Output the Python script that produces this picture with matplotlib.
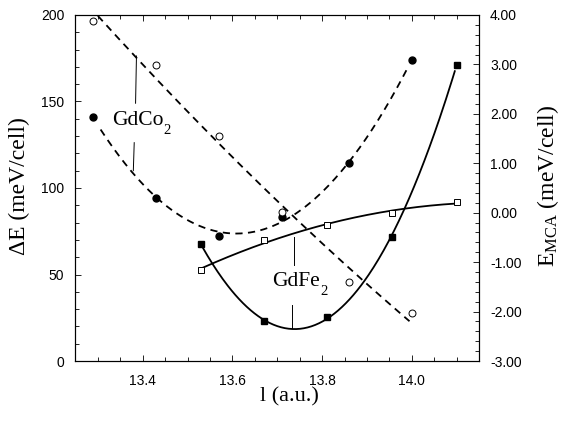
import numpy as np
import matplotlib
matplotlib.use("Agg")
import matplotlib.pyplot as plt
from matplotlib.ticker import MultipleLocator, FormatStrFormatter

plt.rcParams['font.family'] = ['Liberation Sans', 'DejaVu Sans']
plt.rcParams['mathtext.fontset'] = 'custom'
plt.rcParams['mathtext.rm'] = 'Liberation Serif'
plt.rcParams['mathtext.it'] = 'Liberation Serif:italic'

# lattice parameter l (a.u.)
l_co = [13.29, 13.43, 13.57, 13.71, 13.86, 14.00]
l_fe = [13.53, 13.67, 13.81, 13.955, 14.10]

# GdCo2: Delta E (left axis) and E_MCA (right axis)
de_co = [140.9, 94.4, 72.3, 83.2, 114.6, 173.8]
mca_co = [3.88, 2.99, 1.55, 0.01, -1.41, -2.03]

# GdFe2
de_fe = [67.5, 23.1, 25.3, 71.8, 171.1]
mca_fe = [-1.16, -0.55, -0.25, 0.00, 0.21]


def fit_curve(x, y, deg, x0, x1):
    p = np.polyfit(x, y, deg)
    xs = np.linspace(x0, x1, 200)
    return xs, np.polyval(p, xs)


def compound_label(ax, x, y, name):
    # main text and a lowered subscript "2", as in the original figure
    t = ax.text(x, y, name, fontsize=15.5, family=serif, ha='left', va='baseline')
    fig.canvas.draw()
    bb = t.get_window_extent()
    x_px, y_px = bb.x1, ax.transData.transform((x, y))[1]
    ax.text(x_px + 0.5, y_px - 9, '2', fontsize=10.5, family=serif, ha='left', va='baseline',
            transform=None)


fig = plt.figure(figsize=(5.71, 4.21), dpi=100)
ax = fig.add_axes([0.1322, 0.1425, 0.7067, 0.8219])
ax2 = ax.twinx()

serif = 'Liberation Serif'
dash = (4, 3)

# fitted curves
xs, ys = fit_curve(l_co, de_co, 2, 13.306, 13.99)
ax.plot(xs, ys, color='black', lw=1.3, dashes=dash)
xs, ys = fit_curve(l_co, mca_co, 2, 13.30, 13.995)
ax2.plot(xs, ys, color='black', lw=1.3, dashes=dash)
xs, ys = fit_curve(l_fe, de_fe, 3, 13.533, 14.096)
ax.plot(xs, ys, color='black', lw=1.3)
xs, ys = fit_curve(l_fe, mca_fe, 2, 13.533, 14.096)
ax2.plot(xs, ys, color='black', lw=1.3)

# markers
ax.plot(l_co, de_co, 'o', ms=5, color='black', zorder=5)
ax2.plot(l_co, mca_co, 'o', ms=5, mfc='white', mec='black', mew=0.7, zorder=5)
ax.plot(l_fe, de_fe, 's', ms=5, color='black', zorder=5)
ax2.plot(l_fe, mca_fe, 's', ms=5, mfc='white', mec='black', mew=0.7, zorder=5)

# axes setup
ax.set_xlim(13.25, 14.15)
ax.set_ylim(0, 200)
ax2.set_ylim(-3, 4)

ax.xaxis.set_major_locator(MultipleLocator(0.2))
ax.xaxis.set_minor_locator(MultipleLocator(0.05))
ax.xaxis.set_major_formatter(FormatStrFormatter('%.1f'))
ax.yaxis.set_major_locator(MultipleLocator(50))
ax.yaxis.set_minor_locator(MultipleLocator(10))
ax2.yaxis.set_major_locator(MultipleLocator(1))
ax2.yaxis.set_minor_locator(MultipleLocator(0.2))
ax2.yaxis.set_major_formatter(FormatStrFormatter('%.2f'))

ax.tick_params(axis='x', which='both', direction='in', top=True, bottom=True, labelsize=10, pad=9)
ax.tick_params(axis='y', which='both', direction='in', left=True, right=False, labelsize=10, pad=8)
ax2.tick_params(axis='y', which='both', direction='in', right=True, labelsize=10, pad=8)
for a in (ax, ax2):
    a.tick_params(which='major', length=4.5, width=0.6)
    a.tick_params(which='minor', length=3, width=0.6)
for s in ax.spines.values():
    s.set_linewidth(0.8)
for s in ax2.spines.values():
    s.set_linewidth(0.8)

ax.set_xlabel('l (a.u.)', fontsize=16, family=serif)
ax.xaxis.set_label_coords(0.529, -0.075)
ax.set_ylabel('\u0394E (meV/cell)', fontsize=17, family=serif)
ax.yaxis.set_label_coords(-0.112, 0.506)
ax2.set_ylabel(r'E$_\mathrm{MCA}$ (meV/cell)', fontsize=17, family=serif)
ax2.yaxis.set_label_coords(1.139, 0.506)

# labels for the compounds with leader lines
compound_label(ax, 13.331, 136.4, 'GdCo')
ax.plot([13.386, 13.384], [176.3, 149.0], color='black', lw=0.7)
ax.plot([13.381, 13.379], [126.2, 110.0], color='black', lw=0.7)

compound_label(ax, 13.688, 43.4, 'GdFe')
ax.plot([13.738, 13.738], [71.8, 55.5], color='black', lw=0.7)
ax.plot([13.732, 13.732], [32.4, 18.9], color='black', lw=0.7)

fig.savefig('out.png', dpi=100)
